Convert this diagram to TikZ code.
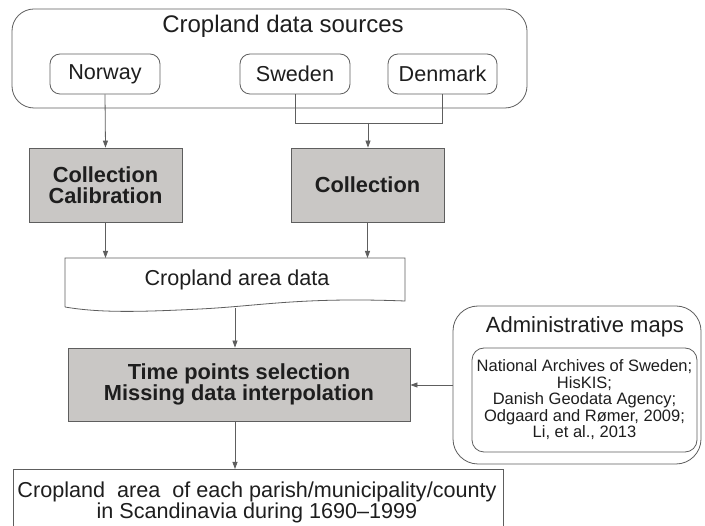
\documentclass[tikz,border=0pt]{standalone}
\usepackage{fontspec}
\setmainfont{Liberation Sans}
\usetikzlibrary{arrows.meta}
\definecolor{boxgray}{HTML}{C9C7C5}
\definecolor{linegray}{HTML}{5E5E5E}
\definecolor{txt}{HTML}{1E1E1E}
\begin{document}
\begin{tikzpicture}[x=1pt,y=-1pt,
  every node/.style={text=txt, inner sep=0pt},
  border/.style={draw=linegray, line width=0.8pt},
  src/.style={border, rounded corners=10pt, minimum width=110pt, minimum height=40pt, font=\fontsize{21.6}{22}\selectfont},
  proc/.style={border, fill=boxgray, font=\fontsize{21.8}{22}\selectfont\bfseries, align=center},
  arr/.style={draw=linegray, line width=0.8pt, -{Triangle[length=7pt,width=5pt]}},
  conn/.style={draw=linegray, line width=0.8pt}]
\useasboundingbox (0,0) rectangle (705,526);
\clip (0,0) rectangle (705,526);
\fill[white] (0,0) rectangle (705,526);

% data sources
\node[border, rounded corners=22pt, minimum width=515pt, minimum height=99pt] (outer) at (269.5,58.5) {};
\node[font=\fontsize{24}{24}\selectfont] (title) at (283,26) {Cropland data sources};
\node[src] (norway) at (105,74) {Norway};
\node[src] (sweden) at (295,74) {Sweden};
\node[src, minimum width=109pt] (denmark) at (442.5,74) {Denmark};

% processing
\node[proc, minimum width=153pt, minimum height=74pt] (cc) at (105.5,185) {Collection\\[-1pt]Calibration};
\node[proc, minimum width=153pt, minimum height=74pt] (col) at (367.5,185) {Collection};

% document shape
\node[minimum width=340pt, minimum height=44pt, font=\fontsize{21.6}{22}\selectfont] (cad) at (237,280) {Cropland area data};
\draw[border] (65,307) -- (65,258) -- (405,258) -- (405,301)
  .. controls (300,297) and (260,306) .. (200,309)
  .. controls (140,312) and (100,313) .. (65,307);
\coordinate (cadb) at (235,308.5);

\node[proc, minimum width=342pt, minimum height=73pt] (time) at (239,384.5) {Time points selection\\[-1pt]Missing data interpolation};

% admin maps
\node[border, rounded corners=25pt, minimum width=248pt, minimum height=158pt] (admin) at (577,385) {};
\node[font=\fontsize{22}{22}\selectfont] (admtitle) at (585,327) {Administrative maps};
\node[border, rounded corners=12pt, minimum width=225pt, minimum height=104pt, align=center,
  font=\fontsize{16.5}{16.5}\selectfont] (inner) at (584.5,400)
  {National Archives of Sweden;\\HisKIS;\\Danish Geodata Agency;\\Odgaard and Rømer, 2009;\\Li, et al., 2013};

% result
\node[align=center, font=\fontsize{21.6}{21}\selectfont] (result) at (257,502)
  {Cropland\ \ area\ \ of each parish/municipality/county\\in Scandinavia during 1690--1999};
\draw[border] (13,530) -- (13,469) -- (503,469) -- (503,530);

% connectors
\draw[arr] (norway.south) -- (cc.north);
\draw[conn] (sweden.south) -- (sweden.south |- 0,123) -- (denmark.south |- 0,123) -- (denmark.south);
\coordinate (join) at (368,123);
\draw[arr] (join) -- (col.north -| join);
\draw[arr] (cc.south) -- (cc.south |- 0,258);
\draw[arr] (col.south) -- (col.south |- 0,258);
\draw[arr] (cadb) -- (cadb |- time.north);
\draw[arr] (admin.west) -- (admin.west -| time.east);
\draw[arr] (time.south -| cadb) -- (cadb |- 0,469);
\end{tikzpicture}
\end{document}
